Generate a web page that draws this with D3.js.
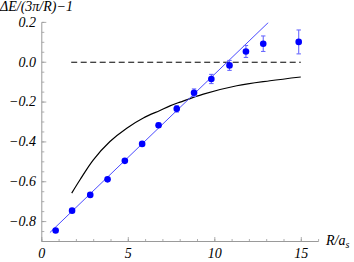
<!DOCTYPE html>
<html>
<head>
<meta charset="utf-8">
<script src="https://cdn.jsdelivr.net/npm/d3@7"></script>
<style>
html,body{margin:0;padding:0;background:#fff;}
svg{display:block;}
svg text{font-family:"Liberation Serif","DejaVu Serif","Noto Serif",serif;font-style:italic;}
</style>
</head>
<body>
<svg id="chart" width="354" height="262"></svg>
<script>
// Data
const pointX = [0.8, 1.75, 2.8, 3.8, 4.8, 5.8, 6.75, 7.8, 8.8, 9.8, 10.85, 11.8, 12.8, 14.85];
const pointY = [-0.845, -0.745, -0.666, -0.588, -0.495, -0.41, -0.316, -0.234, -0.153, -0.084, -0.016, 0.054, 0.093, 0.102];
const pointErr = [0, 0, 0, 0, 0, 0, 0.01, 0.016, 0.019, 0.023, 0.025, 0.03, 0.039, 0.06];

const fitX = [0.47, 13.1];
const fitY = [-0.855, 0.2];

const curveX = [1.73, 2.21, 2.98, 3.94, 4.91, 5.87, 6.83, 7.41, 8.0, 9.34, 11.27, 13.19, 14.97];
const curveY = [-0.657, -0.59, -0.49, -0.398, -0.331, -0.28, -0.242, -0.219, -0.2, -0.16, -0.118, -0.093, -0.074];

const refX = [1.7, 14.97];
const refY = [0, 0];

const xMajorTicks = [0, 5, 10, 15];
const xTickLabels = ["0", "5", "10", "15"];
const yMajorTicks = [0.2, 0.0, -0.2, -0.4, -0.6, -0.8];
const yTickLabels = ["0.2", "0.0", "\u22120.2", "\u22120.4", "\u22120.6", "\u22120.8"];

const svg = d3.select("#chart");
const x = d3.scaleLinear().domain([0, 16]).range([41.8, 318.6]);
const y = d3.scaleLinear().domain([-0.9, 0.2]).range([241.5, 22.4]);

const axisColor = "#9a9a9a";

function txt(sel) {
  return sel.attr("fill", "#000");
}

// clip
svg.append("clipPath").attr("id","clip").append("rect")
  .attr("x", x(0)).attr("y", y(0.2)).attr("width", x(16)-x(0)).attr("height", y(-0.9)-y(0.2));

// Y axis
const gy = svg.append("g");
gy.append("line").attr("x1", x(0)).attr("x2", x(0)).attr("y1", y(-0.9)).attr("y2", y(0.2))
  .attr("stroke", axisColor).attr("stroke-width", 1);
const yMinor = d3.range(-18, 5).map(d => d * 0.05).filter(v => v >= -0.9001 && v <= 0.2001);
gy.selectAll(".ymin").data(yMinor).join("line")
  .attr("x1", x(0)).attr("x2", x(0) + 2.5)
  .attr("y1", d => y(d)).attr("y2", d => y(d))
  .attr("stroke", axisColor).attr("stroke-width", 0.8);
gy.selectAll(".ymaj").data(yMajorTicks).join("line")
  .attr("x1", x(0)).attr("x2", x(0) + 4.5)
  .attr("y1", d => y(d)).attr("y2", d => y(d))
  .attr("stroke", axisColor).attr("stroke-width", 0.8);
txt(gy.selectAll(".ylab").data(yMajorTicks).join("text"))
  .attr("x", 36).attr("y", d => y(d) + 4.3)
  .attr("text-anchor", "end").attr("font-size", 14)
  .text((d, i) => yTickLabels[i]);

// X axis
const gx = svg.append("g");
gx.append("line").attr("x1", x(0)).attr("x2", x(16)).attr("y1", y(-0.9)).attr("y2", y(-0.9))
  .attr("stroke", axisColor).attr("stroke-width", 1);
gx.selectAll(".xmin").data(d3.range(0, 17)).join("line")
  .attr("x1", d => x(d)).attr("x2", d => x(d))
  .attr("y1", y(-0.9)).attr("y2", y(-0.9) - 2.5)
  .attr("stroke", axisColor).attr("stroke-width", 0.8);
gx.selectAll(".xmaj").data(xMajorTicks).join("line")
  .attr("x1", d => x(d)).attr("x2", d => x(d))
  .attr("y1", y(-0.9)).attr("y2", y(-0.9) - 4.5)
  .attr("stroke", axisColor).attr("stroke-width", 0.8);
txt(gx.selectAll(".xlab").data(xMajorTicks).join("text"))
  .attr("x", d => x(d)).attr("y", 257.5)
  .attr("text-anchor", "middle").attr("font-size", 14)
  .text((d, i) => xTickLabels[i]);

// Axis titles
txt(svg.append("text")).attr("x", 0).attr("y", 11).attr("font-size", 14)
  .text("\u0394E/(3\u03C0/R)\u22121");
const xt = txt(svg.append("text")).attr("x", 326).attr("y", 245).attr("font-size", 14);
xt.append("tspan").text("R/a");
xt.append("tspan").attr("font-size", 10).attr("dy", 3).text("s");

const plot = svg.append("g").attr("clip-path", "url(#clip)");

// dashed zero line
plot.append("path")
  .datum(refX.map((v, i) => [v, refY[i]]))
  .attr("d", d3.line().x(d => x(d[0])).y(d => y(d[1])))
  .attr("stroke", "#000").attr("stroke-width", 1).attr("stroke-dasharray", "6,3.5").attr("fill", "none");

// black curve
plot.append("path")
  .datum(curveX.map((v, i) => [v, curveY[i]]))
  .attr("d", d3.line().x(d => x(d[0])).y(d => y(d[1])).curve(d3.curveCatmullRom))
  .attr("stroke", "#000").attr("stroke-width", 1.2).attr("fill", "none");

// blue fit line
plot.append("path")
  .datum(fitX.map((v, i) => [v, fitY[i]]))
  .attr("d", d3.line().x(d => x(d[0])).y(d => y(d[1])))
  .attr("stroke", "#4a4aff").attr("stroke-width", 1).attr("fill", "none");

// error bars
const pts = pointX.map((v, i) => ({x: v, y: pointY[i], e: pointErr[i]}));
const eb = svg.append("g").attr("stroke", "#6a6aff").attr("stroke-width", 1.1);
eb.selectAll(".ev").data(pts.filter(d => d.e > 0)).join("line")
  .attr("x1", d => x(d.x)).attr("x2", d => x(d.x))
  .attr("y1", d => y(d.y - d.e)).attr("y2", d => y(d.y + d.e));
eb.selectAll(".et").data(pts.filter(d => d.e > 0)).join("line")
  .attr("x1", d => x(d.x) - 2.2).attr("x2", d => x(d.x) + 2.2)
  .attr("y1", d => y(d.y + d.e)).attr("y2", d => y(d.y + d.e));
eb.selectAll(".eb").data(pts.filter(d => d.e > 0)).join("line")
  .attr("x1", d => x(d.x) - 2.2).attr("x2", d => x(d.x) + 2.2)
  .attr("y1", d => y(d.y - d.e)).attr("y2", d => y(d.y - d.e));

// points
svg.append("g").selectAll("circle").data(pts).join("circle")
  .attr("cx", d => x(d.x)).attr("cy", d => y(d.y)).attr("r", 3.3)
  .attr("fill", "#0000ff");
</script>
</body>
</html>
